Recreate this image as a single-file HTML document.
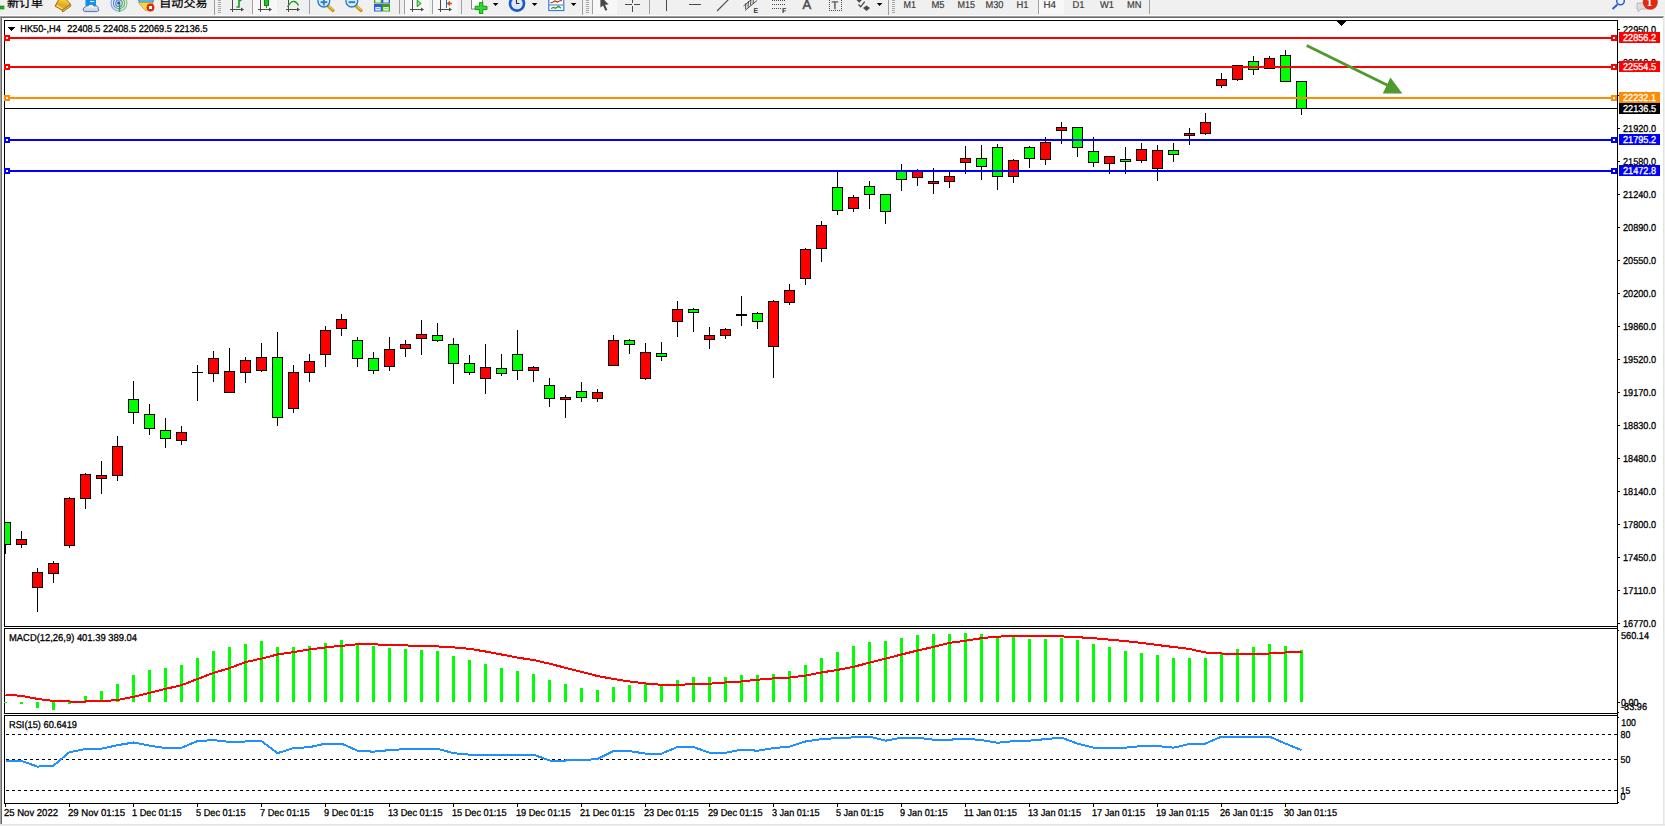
<!DOCTYPE html>
<html lang="zh"><head><meta charset="utf-8"><title>HK50-,H4</title>
<style>
html,body{margin:0;padding:0;background:#f0f0f0;overflow:hidden}
svg{display:block;font-family:"Liberation Sans","Noto Sans CJK SC",sans-serif}
</style></head><body>
<svg width="1665" height="826" viewBox="0 0 1665 826" shape-rendering="crispEdges" text-rendering="geometricPrecision">
<defs>
<clipPath id="cm"><rect x="5" y="21" width="1612" height="605"/></clipPath>
<clipPath id="cm2"><rect x="5" y="629" width="1612" height="84"/></clipPath>
<clipPath id="cm3"><rect x="5" y="716" width="1612" height="87"/></clipPath>
<clipPath id="tb"><rect x="0" y="0" width="1665" height="15"/></clipPath>
</defs>
<rect x="0" y="0" width="1665" height="826" fill="#f0f0f0"/>
<rect x="0" y="15" width="1665" height="1" fill="#fafafa"/>
<rect x="0" y="16" width="1664" height="1" fill="#a0a0a0"/>
<rect x="1" y="17" width="1662" height="1" fill="#696969"/>
<rect x="2" y="18" width="1661" height="806" fill="#ffffff"/>
<rect x="1663" y="18" width="1" height="807" fill="#e3e3e3"/>
<rect x="0" y="16" width="1" height="808" fill="#a0a0a0"/>
<rect x="1" y="17" width="1" height="807" fill="#696969"/>
<rect x="0" y="824" width="1665" height="1" fill="#e3e3e3"/>
<rect x="4" y="20" width="1614" height="1" fill="#000"/>
<rect x="4" y="20" width="1" height="607" fill="#000"/>
<rect x="4" y="626" width="1614" height="1" fill="#000"/>
<rect x="4" y="628" width="1614" height="1" fill="#000"/>
<rect x="4" y="628" width="1" height="86" fill="#000"/>
<rect x="4" y="713" width="1614" height="1" fill="#000"/>
<rect x="4" y="715" width="1614" height="1" fill="#000"/>
<rect x="4" y="715" width="1" height="89" fill="#000"/>
<rect x="4" y="803" width="1614" height="1" fill="#000"/>
<rect x="1617" y="20" width="1" height="784" fill="#000"/>
<g clip-path="url(#cm)">
<rect x="5" y="522" width="1" height="32" fill="#000"/>
<rect x="0" y="522" width="11" height="23" fill="#000"/>
<rect x="1" y="523" width="9" height="21" fill="#00ff00"/>
<rect x="21" y="531" width="1" height="17" fill="#000"/>
<rect x="16" y="539" width="11" height="6" fill="#000"/>
<rect x="17" y="540" width="9" height="4" fill="#ff0000"/>
<rect x="37" y="568" width="1" height="44" fill="#000"/>
<rect x="32" y="572" width="11" height="16" fill="#000"/>
<rect x="33" y="573" width="9" height="14" fill="#ff0000"/>
<rect x="53" y="561" width="1" height="22" fill="#000"/>
<rect x="48" y="563" width="11" height="11" fill="#000"/>
<rect x="49" y="564" width="9" height="9" fill="#ff0000"/>
<rect x="69" y="497" width="1" height="51" fill="#000"/>
<rect x="64" y="498" width="11" height="48" fill="#000"/>
<rect x="65" y="499" width="9" height="46" fill="#ff0000"/>
<rect x="85" y="473" width="1" height="36" fill="#000"/>
<rect x="80" y="474" width="11" height="25" fill="#000"/>
<rect x="81" y="475" width="9" height="23" fill="#ff0000"/>
<rect x="101" y="461" width="1" height="33" fill="#000"/>
<rect x="96" y="475" width="11" height="4" fill="#000"/>
<rect x="97" y="476" width="9" height="2" fill="#ff0000"/>
<rect x="117" y="436" width="1" height="45" fill="#000"/>
<rect x="112" y="446" width="11" height="30" fill="#000"/>
<rect x="113" y="447" width="9" height="28" fill="#ff0000"/>
<rect x="133" y="381" width="1" height="43" fill="#000"/>
<rect x="128" y="399" width="11" height="14" fill="#000"/>
<rect x="129" y="400" width="9" height="12" fill="#00ff00"/>
<rect x="149" y="404" width="1" height="31" fill="#000"/>
<rect x="144" y="414" width="11" height="15" fill="#000"/>
<rect x="145" y="415" width="9" height="13" fill="#00ff00"/>
<rect x="165" y="418" width="1" height="30" fill="#000"/>
<rect x="160" y="430" width="11" height="9" fill="#000"/>
<rect x="161" y="431" width="9" height="7" fill="#00ff00"/>
<rect x="181" y="426" width="1" height="19" fill="#000"/>
<rect x="176" y="432" width="11" height="9" fill="#000"/>
<rect x="177" y="433" width="9" height="7" fill="#ff0000"/>
<rect x="197" y="365" width="1" height="36" fill="#000"/>
<rect x="192" y="372" width="11" height="1" fill="#000"/>
<rect x="213" y="351" width="1" height="31" fill="#000"/>
<rect x="208" y="358" width="11" height="16" fill="#000"/>
<rect x="209" y="359" width="9" height="14" fill="#ff0000"/>
<rect x="229" y="348" width="1" height="45" fill="#000"/>
<rect x="224" y="371" width="11" height="22" fill="#000"/>
<rect x="225" y="372" width="9" height="20" fill="#ff0000"/>
<rect x="245" y="357" width="1" height="26" fill="#000"/>
<rect x="240" y="360" width="11" height="13" fill="#000"/>
<rect x="241" y="361" width="9" height="11" fill="#ff0000"/>
<rect x="261" y="343" width="1" height="29" fill="#000"/>
<rect x="256" y="357" width="11" height="14" fill="#000"/>
<rect x="257" y="358" width="9" height="12" fill="#ff0000"/>
<rect x="277" y="332" width="1" height="94" fill="#000"/>
<rect x="272" y="357" width="11" height="61" fill="#000"/>
<rect x="273" y="358" width="9" height="59" fill="#00ff00"/>
<rect x="293" y="365" width="1" height="48" fill="#000"/>
<rect x="288" y="372" width="11" height="37" fill="#000"/>
<rect x="289" y="373" width="9" height="35" fill="#ff0000"/>
<rect x="309" y="354" width="1" height="28" fill="#000"/>
<rect x="304" y="361" width="11" height="12" fill="#000"/>
<rect x="305" y="362" width="9" height="10" fill="#ff0000"/>
<rect x="325" y="326" width="1" height="41" fill="#000"/>
<rect x="320" y="330" width="11" height="25" fill="#000"/>
<rect x="321" y="331" width="9" height="23" fill="#ff0000"/>
<rect x="341" y="314" width="1" height="22" fill="#000"/>
<rect x="336" y="319" width="11" height="10" fill="#000"/>
<rect x="337" y="320" width="9" height="8" fill="#ff0000"/>
<rect x="357" y="337" width="1" height="30" fill="#000"/>
<rect x="352" y="340" width="11" height="19" fill="#000"/>
<rect x="353" y="341" width="9" height="17" fill="#00ff00"/>
<rect x="373" y="352" width="1" height="22" fill="#000"/>
<rect x="368" y="358" width="11" height="13" fill="#000"/>
<rect x="369" y="359" width="9" height="11" fill="#00ff00"/>
<rect x="389" y="337" width="1" height="34" fill="#000"/>
<rect x="384" y="349" width="11" height="18" fill="#000"/>
<rect x="385" y="350" width="9" height="16" fill="#ff0000"/>
<rect x="405" y="340" width="1" height="17" fill="#000"/>
<rect x="400" y="344" width="11" height="5" fill="#000"/>
<rect x="401" y="345" width="9" height="3" fill="#ff0000"/>
<rect x="421" y="320" width="1" height="35" fill="#000"/>
<rect x="416" y="334" width="11" height="5" fill="#000"/>
<rect x="417" y="335" width="9" height="3" fill="#ff0000"/>
<rect x="437" y="323" width="1" height="19" fill="#000"/>
<rect x="432" y="335" width="11" height="6" fill="#000"/>
<rect x="433" y="336" width="9" height="4" fill="#00ff00"/>
<rect x="453" y="338" width="1" height="46" fill="#000"/>
<rect x="448" y="344" width="11" height="20" fill="#000"/>
<rect x="449" y="345" width="9" height="18" fill="#00ff00"/>
<rect x="469" y="355" width="1" height="20" fill="#000"/>
<rect x="464" y="363" width="11" height="10" fill="#000"/>
<rect x="465" y="364" width="9" height="8" fill="#00ff00"/>
<rect x="485" y="344" width="1" height="50" fill="#000"/>
<rect x="480" y="367" width="11" height="12" fill="#000"/>
<rect x="481" y="368" width="9" height="10" fill="#ff0000"/>
<rect x="501" y="354" width="1" height="22" fill="#000"/>
<rect x="496" y="368" width="11" height="6" fill="#000"/>
<rect x="497" y="369" width="9" height="4" fill="#00ff00"/>
<rect x="517" y="330" width="1" height="50" fill="#000"/>
<rect x="512" y="354" width="11" height="17" fill="#000"/>
<rect x="513" y="355" width="9" height="15" fill="#00ff00"/>
<rect x="533" y="366" width="1" height="16" fill="#000"/>
<rect x="528" y="367" width="11" height="4" fill="#000"/>
<rect x="529" y="368" width="9" height="2" fill="#ff0000"/>
<rect x="549" y="378" width="1" height="29" fill="#000"/>
<rect x="544" y="385" width="11" height="14" fill="#000"/>
<rect x="545" y="386" width="9" height="12" fill="#00ff00"/>
<rect x="565" y="395" width="1" height="23" fill="#000"/>
<rect x="560" y="397" width="11" height="3" fill="#000"/>
<rect x="561" y="398" width="9" height="1" fill="#ff0000"/>
<rect x="581" y="382" width="1" height="20" fill="#000"/>
<rect x="576" y="391" width="11" height="7" fill="#000"/>
<rect x="577" y="392" width="9" height="5" fill="#00ff00"/>
<rect x="597" y="389" width="1" height="13" fill="#000"/>
<rect x="592" y="392" width="11" height="7" fill="#000"/>
<rect x="593" y="393" width="9" height="5" fill="#ff0000"/>
<rect x="613" y="335" width="1" height="31" fill="#000"/>
<rect x="608" y="340" width="11" height="26" fill="#000"/>
<rect x="609" y="341" width="9" height="24" fill="#ff0000"/>
<rect x="629" y="339" width="1" height="15" fill="#000"/>
<rect x="624" y="340" width="11" height="5" fill="#000"/>
<rect x="625" y="341" width="9" height="3" fill="#00ff00"/>
<rect x="645" y="343" width="1" height="37" fill="#000"/>
<rect x="640" y="352" width="11" height="27" fill="#000"/>
<rect x="641" y="353" width="9" height="25" fill="#ff0000"/>
<rect x="661" y="342" width="1" height="19" fill="#000"/>
<rect x="656" y="353" width="11" height="4" fill="#000"/>
<rect x="657" y="354" width="9" height="2" fill="#00ff00"/>
<rect x="677" y="301" width="1" height="36" fill="#000"/>
<rect x="672" y="309" width="11" height="13" fill="#000"/>
<rect x="673" y="310" width="9" height="11" fill="#ff0000"/>
<rect x="693" y="308" width="1" height="24" fill="#000"/>
<rect x="688" y="309" width="11" height="4" fill="#000"/>
<rect x="689" y="310" width="9" height="2" fill="#00ff00"/>
<rect x="709" y="327" width="1" height="22" fill="#000"/>
<rect x="704" y="335" width="11" height="5" fill="#000"/>
<rect x="705" y="336" width="9" height="3" fill="#ff0000"/>
<rect x="725" y="328" width="1" height="11" fill="#000"/>
<rect x="720" y="329" width="11" height="7" fill="#000"/>
<rect x="721" y="330" width="9" height="5" fill="#ff0000"/>
<rect x="741" y="296" width="1" height="30" fill="#000"/>
<rect x="736" y="314" width="11" height="2" fill="#000"/>
<rect x="757" y="312" width="1" height="17" fill="#000"/>
<rect x="752" y="313" width="11" height="9" fill="#000"/>
<rect x="753" y="314" width="9" height="7" fill="#00ff00"/>
<rect x="773" y="300" width="1" height="78" fill="#000"/>
<rect x="768" y="301" width="11" height="46" fill="#000"/>
<rect x="769" y="302" width="9" height="44" fill="#ff0000"/>
<rect x="789" y="284" width="1" height="21" fill="#000"/>
<rect x="784" y="290" width="11" height="13" fill="#000"/>
<rect x="785" y="291" width="9" height="11" fill="#ff0000"/>
<rect x="805" y="248" width="1" height="37" fill="#000"/>
<rect x="800" y="249" width="11" height="30" fill="#000"/>
<rect x="801" y="250" width="9" height="28" fill="#ff0000"/>
<rect x="821" y="221" width="1" height="41" fill="#000"/>
<rect x="816" y="225" width="11" height="24" fill="#000"/>
<rect x="817" y="226" width="9" height="22" fill="#ff0000"/>
<rect x="837" y="171" width="1" height="44" fill="#000"/>
<rect x="832" y="187" width="11" height="24" fill="#000"/>
<rect x="833" y="188" width="9" height="22" fill="#00ff00"/>
<rect x="853" y="195" width="1" height="17" fill="#000"/>
<rect x="848" y="197" width="11" height="12" fill="#000"/>
<rect x="849" y="198" width="9" height="10" fill="#ff0000"/>
<rect x="869" y="181" width="1" height="28" fill="#000"/>
<rect x="864" y="186" width="11" height="9" fill="#000"/>
<rect x="865" y="187" width="9" height="7" fill="#00ff00"/>
<rect x="885" y="194" width="1" height="30" fill="#000"/>
<rect x="880" y="194" width="11" height="18" fill="#000"/>
<rect x="881" y="195" width="9" height="16" fill="#00ff00"/>
<rect x="901" y="164" width="1" height="27" fill="#000"/>
<rect x="896" y="171" width="11" height="9" fill="#000"/>
<rect x="897" y="172" width="9" height="7" fill="#00ff00"/>
<rect x="917" y="169" width="1" height="17" fill="#000"/>
<rect x="912" y="171" width="11" height="7" fill="#000"/>
<rect x="913" y="172" width="9" height="5" fill="#ff0000"/>
<rect x="933" y="168" width="1" height="26" fill="#000"/>
<rect x="928" y="181" width="11" height="3" fill="#000"/>
<rect x="929" y="182" width="9" height="1" fill="#ff0000"/>
<rect x="949" y="172" width="1" height="16" fill="#000"/>
<rect x="944" y="176" width="11" height="6" fill="#000"/>
<rect x="945" y="177" width="9" height="4" fill="#ff0000"/>
<rect x="965" y="146" width="1" height="28" fill="#000"/>
<rect x="960" y="158" width="11" height="5" fill="#000"/>
<rect x="961" y="159" width="9" height="3" fill="#ff0000"/>
<rect x="981" y="145" width="1" height="35" fill="#000"/>
<rect x="976" y="158" width="11" height="9" fill="#000"/>
<rect x="977" y="159" width="9" height="7" fill="#00ff00"/>
<rect x="997" y="144" width="1" height="46" fill="#000"/>
<rect x="992" y="147" width="11" height="30" fill="#000"/>
<rect x="993" y="148" width="9" height="28" fill="#00ff00"/>
<rect x="1013" y="159" width="1" height="24" fill="#000"/>
<rect x="1008" y="160" width="11" height="17" fill="#000"/>
<rect x="1009" y="161" width="9" height="15" fill="#ff0000"/>
<rect x="1029" y="146" width="1" height="22" fill="#000"/>
<rect x="1024" y="147" width="11" height="12" fill="#000"/>
<rect x="1025" y="148" width="9" height="10" fill="#00ff00"/>
<rect x="1045" y="137" width="1" height="28" fill="#000"/>
<rect x="1040" y="142" width="11" height="18" fill="#000"/>
<rect x="1041" y="143" width="9" height="16" fill="#ff0000"/>
<rect x="1061" y="122" width="1" height="22" fill="#000"/>
<rect x="1056" y="127" width="11" height="4" fill="#000"/>
<rect x="1057" y="128" width="9" height="2" fill="#ff0000"/>
<rect x="1077" y="127" width="1" height="30" fill="#000"/>
<rect x="1072" y="127" width="11" height="21" fill="#000"/>
<rect x="1073" y="128" width="9" height="19" fill="#00ff00"/>
<rect x="1093" y="137" width="1" height="30" fill="#000"/>
<rect x="1088" y="151" width="11" height="12" fill="#000"/>
<rect x="1089" y="152" width="9" height="10" fill="#00ff00"/>
<rect x="1109" y="156" width="1" height="18" fill="#000"/>
<rect x="1104" y="156" width="11" height="8" fill="#000"/>
<rect x="1105" y="157" width="9" height="6" fill="#ff0000"/>
<rect x="1125" y="147" width="1" height="27" fill="#000"/>
<rect x="1120" y="159" width="11" height="3" fill="#000"/>
<rect x="1121" y="160" width="9" height="1" fill="#00ff00"/>
<rect x="1141" y="143" width="1" height="20" fill="#000"/>
<rect x="1136" y="149" width="11" height="12" fill="#000"/>
<rect x="1137" y="150" width="9" height="10" fill="#ff0000"/>
<rect x="1157" y="145" width="1" height="36" fill="#000"/>
<rect x="1152" y="150" width="11" height="19" fill="#000"/>
<rect x="1153" y="151" width="9" height="17" fill="#ff0000"/>
<rect x="1173" y="143" width="1" height="19" fill="#000"/>
<rect x="1168" y="150" width="11" height="5" fill="#000"/>
<rect x="1169" y="151" width="9" height="3" fill="#00ff00"/>
<rect x="1189" y="128" width="1" height="17" fill="#000"/>
<rect x="1184" y="133" width="11" height="3" fill="#000"/>
<rect x="1185" y="134" width="9" height="1" fill="#ff0000"/>
<rect x="1205" y="113" width="1" height="22" fill="#000"/>
<rect x="1200" y="122" width="11" height="12" fill="#000"/>
<rect x="1201" y="123" width="9" height="10" fill="#ff0000"/>
<rect x="1221" y="73" width="1" height="15" fill="#000"/>
<rect x="1216" y="79" width="11" height="7" fill="#000"/>
<rect x="1217" y="80" width="9" height="5" fill="#ff0000"/>
<rect x="1237" y="65" width="1" height="16" fill="#000"/>
<rect x="1232" y="65" width="11" height="15" fill="#000"/>
<rect x="1233" y="66" width="9" height="13" fill="#ff0000"/>
<rect x="1253" y="56" width="1" height="19" fill="#000"/>
<rect x="1248" y="61" width="11" height="9" fill="#000"/>
<rect x="1249" y="62" width="9" height="7" fill="#00ff00"/>
<rect x="1269" y="56" width="1" height="13" fill="#000"/>
<rect x="1264" y="58" width="11" height="11" fill="#000"/>
<rect x="1265" y="59" width="9" height="9" fill="#ff0000"/>
<rect x="1285" y="50" width="1" height="32" fill="#000"/>
<rect x="1280" y="55" width="11" height="27" fill="#000"/>
<rect x="1281" y="56" width="9" height="25" fill="#00ff00"/>
<rect x="1301" y="81" width="1" height="34" fill="#000"/>
<rect x="1296" y="81" width="11" height="28" fill="#000"/>
<rect x="1297" y="82" width="9" height="26" fill="#00ff00"/>
</g>
<rect x="5" y="108" width="1612" height="1" fill="#000"/>
<rect x="5" y="37" width="1612" height="2" fill="#ff0000"/>
<rect x="4" y="35" width="6" height="6" fill="#ff0000"/>
<rect x="6" y="37" width="2" height="2" fill="#fff"/>
<rect x="1611" y="35" width="6" height="6" fill="#ff0000"/>
<rect x="1613" y="37" width="2" height="2" fill="#fff"/>
<rect x="5" y="66" width="1612" height="2" fill="#ff0000"/>
<rect x="4" y="64" width="6" height="6" fill="#ff0000"/>
<rect x="6" y="66" width="2" height="2" fill="#fff"/>
<rect x="1611" y="64" width="6" height="6" fill="#ff0000"/>
<rect x="1613" y="66" width="2" height="2" fill="#fff"/>
<rect x="5" y="97" width="1612" height="2" fill="#ff8c00"/>
<rect x="4" y="95" width="6" height="6" fill="#ff8c00"/>
<rect x="6" y="97" width="2" height="2" fill="#fff"/>
<rect x="1611" y="95" width="6" height="6" fill="#ff8c00"/>
<rect x="1613" y="97" width="2" height="2" fill="#fff"/>
<rect x="5" y="139" width="1612" height="2" fill="#0000ff"/>
<rect x="4" y="137" width="6" height="6" fill="#0000ff"/>
<rect x="6" y="139" width="2" height="2" fill="#fff"/>
<rect x="1611" y="137" width="6" height="6" fill="#0000ff"/>
<rect x="1613" y="139" width="2" height="2" fill="#fff"/>
<rect x="5" y="170" width="1612" height="2" fill="#0000ff"/>
<rect x="4" y="168" width="6" height="6" fill="#0000ff"/>
<rect x="6" y="170" width="2" height="2" fill="#fff"/>
<rect x="1611" y="168" width="6" height="6" fill="#0000ff"/>
<rect x="1613" y="170" width="2" height="2" fill="#fff"/>
<polygon points="1336.5,21 1346.5,21 1341.5,26.5" fill="#000"/>
<g shape-rendering="geometricPrecision"><line x1="1306.7" y1="45.5" x2="1388" y2="85.6" stroke="#4f9a2d" stroke-width="2.8"/><polygon points="1390.4,77.5 1382.8,93.6 1402.4,93.6" fill="#4f9a2d"/></g>
<rect x="4" y="702" width="3" height="1" fill="#00ff00"/>
<rect x="20" y="702" width="3" height="2" fill="#00ff00"/>
<rect x="36" y="702" width="3" height="6" fill="#00ff00"/>
<rect x="52" y="702" width="3" height="8" fill="#00ff00"/>
<rect x="68" y="702" width="3" height="2" fill="#00ff00"/>
<rect x="84" y="696" width="3" height="6" fill="#00ff00"/>
<rect x="100" y="691" width="3" height="11" fill="#00ff00"/>
<rect x="116" y="684" width="3" height="18" fill="#00ff00"/>
<rect x="132" y="675" width="3" height="27" fill="#00ff00"/>
<rect x="148" y="670" width="3" height="32" fill="#00ff00"/>
<rect x="164" y="668" width="3" height="34" fill="#00ff00"/>
<rect x="180" y="665" width="3" height="37" fill="#00ff00"/>
<rect x="196" y="658" width="3" height="44" fill="#00ff00"/>
<rect x="212" y="651" width="3" height="51" fill="#00ff00"/>
<rect x="228" y="647" width="3" height="55" fill="#00ff00"/>
<rect x="244" y="644" width="3" height="58" fill="#00ff00"/>
<rect x="260" y="641" width="3" height="61" fill="#00ff00"/>
<rect x="276" y="647" width="3" height="55" fill="#00ff00"/>
<rect x="292" y="647" width="3" height="55" fill="#00ff00"/>
<rect x="308" y="646" width="3" height="56" fill="#00ff00"/>
<rect x="324" y="643" width="3" height="59" fill="#00ff00"/>
<rect x="340" y="640" width="3" height="62" fill="#00ff00"/>
<rect x="356" y="643" width="3" height="59" fill="#00ff00"/>
<rect x="372" y="646" width="3" height="56" fill="#00ff00"/>
<rect x="388" y="648" width="3" height="54" fill="#00ff00"/>
<rect x="404" y="649" width="3" height="53" fill="#00ff00"/>
<rect x="420" y="650" width="3" height="52" fill="#00ff00"/>
<rect x="436" y="651" width="3" height="51" fill="#00ff00"/>
<rect x="452" y="656" width="3" height="46" fill="#00ff00"/>
<rect x="468" y="660" width="3" height="42" fill="#00ff00"/>
<rect x="484" y="664" width="3" height="38" fill="#00ff00"/>
<rect x="500" y="668" width="3" height="34" fill="#00ff00"/>
<rect x="516" y="671" width="3" height="31" fill="#00ff00"/>
<rect x="532" y="674" width="3" height="28" fill="#00ff00"/>
<rect x="548" y="680" width="3" height="22" fill="#00ff00"/>
<rect x="564" y="684" width="3" height="18" fill="#00ff00"/>
<rect x="580" y="688" width="3" height="14" fill="#00ff00"/>
<rect x="596" y="690" width="3" height="12" fill="#00ff00"/>
<rect x="612" y="687" width="3" height="15" fill="#00ff00"/>
<rect x="628" y="685" width="3" height="17" fill="#00ff00"/>
<rect x="644" y="684" width="3" height="18" fill="#00ff00"/>
<rect x="660" y="685" width="3" height="17" fill="#00ff00"/>
<rect x="676" y="680" width="3" height="22" fill="#00ff00"/>
<rect x="692" y="677" width="3" height="25" fill="#00ff00"/>
<rect x="708" y="677" width="3" height="25" fill="#00ff00"/>
<rect x="724" y="677" width="3" height="25" fill="#00ff00"/>
<rect x="740" y="675" width="3" height="27" fill="#00ff00"/>
<rect x="756" y="675" width="3" height="27" fill="#00ff00"/>
<rect x="772" y="674" width="3" height="28" fill="#00ff00"/>
<rect x="788" y="671" width="3" height="31" fill="#00ff00"/>
<rect x="804" y="665" width="3" height="37" fill="#00ff00"/>
<rect x="820" y="658" width="3" height="44" fill="#00ff00"/>
<rect x="836" y="652" width="3" height="50" fill="#00ff00"/>
<rect x="852" y="646" width="3" height="56" fill="#00ff00"/>
<rect x="868" y="642" width="3" height="60" fill="#00ff00"/>
<rect x="884" y="641" width="3" height="61" fill="#00ff00"/>
<rect x="900" y="638" width="3" height="64" fill="#00ff00"/>
<rect x="916" y="635" width="3" height="67" fill="#00ff00"/>
<rect x="932" y="634" width="3" height="68" fill="#00ff00"/>
<rect x="948" y="634" width="3" height="68" fill="#00ff00"/>
<rect x="964" y="633" width="3" height="69" fill="#00ff00"/>
<rect x="980" y="634" width="3" height="68" fill="#00ff00"/>
<rect x="996" y="636" width="3" height="66" fill="#00ff00"/>
<rect x="1012" y="637" width="3" height="65" fill="#00ff00"/>
<rect x="1028" y="639" width="3" height="63" fill="#00ff00"/>
<rect x="1044" y="639" width="3" height="63" fill="#00ff00"/>
<rect x="1060" y="638" width="3" height="64" fill="#00ff00"/>
<rect x="1076" y="640" width="3" height="62" fill="#00ff00"/>
<rect x="1092" y="644" width="3" height="58" fill="#00ff00"/>
<rect x="1108" y="647" width="3" height="55" fill="#00ff00"/>
<rect x="1124" y="651" width="3" height="51" fill="#00ff00"/>
<rect x="1140" y="653" width="3" height="49" fill="#00ff00"/>
<rect x="1156" y="655" width="3" height="47" fill="#00ff00"/>
<rect x="1172" y="658" width="3" height="44" fill="#00ff00"/>
<rect x="1188" y="658" width="3" height="44" fill="#00ff00"/>
<rect x="1204" y="658" width="3" height="44" fill="#00ff00"/>
<rect x="1220" y="654" width="3" height="48" fill="#00ff00"/>
<rect x="1236" y="649" width="3" height="53" fill="#00ff00"/>
<rect x="1252" y="647" width="3" height="55" fill="#00ff00"/>
<rect x="1268" y="644" width="3" height="58" fill="#00ff00"/>
<rect x="1284" y="646" width="3" height="56" fill="#00ff00"/>
<rect x="1300" y="650" width="3" height="52" fill="#00ff00"/>
<g clip-path="url(#cm2)">
<polyline points="5.5,694.8 21.5,695.8 37.5,698.9 53.5,700.9 69.5,701.5 85.5,701.5 101.5,701.1 117.5,700.1 133.5,696.8 149.5,692.9 165.5,688.9 181.5,685.2 197.5,679.0 213.5,672.9 229.5,668.2 245.5,662.1 261.5,658.6 277.5,654.5 293.5,652.1 309.5,649.4 325.5,647.4 341.5,645.8 357.5,644.3 373.5,644.3 389.5,645.0 405.5,645.4 421.5,646.0 437.5,646.4 453.5,647.4 469.5,648.8 485.5,651.5 501.5,654.5 517.5,657.6 533.5,660.0 549.5,663.7 565.5,667.8 581.5,671.9 597.5,676.0 613.5,679.0 629.5,681.5 645.5,683.5 661.5,684.8 677.5,684.8 693.5,684.2 709.5,683.7 725.5,682.5 741.5,681.5 757.5,679.7 773.5,678.4 789.5,677.6 805.5,675.6 821.5,672.5 837.5,669.9 853.5,666.8 869.5,662.7 885.5,658.6 901.5,654.5 917.5,650.5 933.5,647.0 949.5,642.9 965.5,640.7 981.5,638.2 997.5,636.6 1013.5,636.2 1029.5,636.2 1045.5,636.2 1061.5,636.4 1077.5,637.2 1093.5,638.2 1109.5,639.6 1125.5,641.1 1141.5,642.9 1157.5,645.0 1173.5,647.0 1189.5,649.0 1205.5,652.5 1221.5,653.5 1237.5,653.9 1253.5,653.9 1269.5,653.5 1285.5,652.5 1301.5,651.9" fill="none" stroke="#ff0000" stroke-width="2" stroke-linejoin="round" shape-rendering="crispEdges"/>
</g>
<line x1="6" y1="734.5" x2="1617" y2="734.5" stroke="#000" stroke-width="1" stroke-dasharray="3 3"/>
<line x1="6" y1="759.5" x2="1617" y2="759.5" stroke="#000" stroke-width="1" stroke-dasharray="3 3"/>
<line x1="6" y1="790.5" x2="1617" y2="790.5" stroke="#000" stroke-width="1" stroke-dasharray="3 3"/>
<g clip-path="url(#cm3)">
<polyline points="5.5,760.9 21.5,760.9 37.5,766.6 53.5,765.6 69.5,752.1 85.5,749.1 101.5,748.7 117.5,745.2 133.5,742.5 149.5,745.6 165.5,748.1 181.5,747.7 197.5,741.1 213.5,740.1 229.5,741.9 245.5,741.5 261.5,741.1 277.5,753.2 293.5,748.1 309.5,747.2 325.5,743.6 341.5,743.6 357.5,750.7 373.5,751.7 389.5,750.1 405.5,749.1 421.5,748.7 437.5,748.7 453.5,753.2 469.5,754.6 485.5,754.6 501.5,754.6 517.5,754.6 533.5,754.6 549.5,760.5 565.5,760.5 581.5,760.1 597.5,759.1 613.5,751.1 629.5,751.1 645.5,753.6 661.5,753.6 677.5,747.0 693.5,747.0 709.5,752.8 725.5,752.8 741.5,749.7 757.5,750.7 773.5,748.1 789.5,746.6 805.5,741.5 821.5,739.1 837.5,738.1 853.5,737.4 869.5,736.6 885.5,740.7 901.5,737.6 917.5,737.6 933.5,739.7 949.5,739.7 965.5,738.7 981.5,740.1 997.5,742.8 1013.5,741.1 1029.5,740.7 1045.5,739.1 1061.5,737.6 1077.5,743.6 1093.5,747.7 1109.5,747.7 1125.5,747.7 1141.5,746.0 1157.5,746.0 1173.5,747.7 1189.5,744.0 1205.5,743.6 1221.5,736.6 1237.5,736.6 1253.5,736.6 1269.5,736.6 1285.5,743.6 1301.5,750.1" fill="none" stroke="#1e90ff" stroke-width="2" stroke-linejoin="round" shape-rendering="crispEdges"/>
</g>
<rect x="1618" y="29" width="2" height="1" fill="#000"/>
<text x="1623" y="33" fill="#000" stroke="#000" stroke-width="0.3" font-size="10" textLength="33" lengthAdjust="spacingAndGlyphs">22950.0</text>
<rect x="1618" y="62" width="2" height="1" fill="#000"/>
<text x="1623" y="66" fill="#000" stroke="#000" stroke-width="0.3" font-size="10" textLength="33" lengthAdjust="spacingAndGlyphs">22610.0</text>
<rect x="1618" y="95" width="2" height="1" fill="#000"/>
<text x="1623" y="99" fill="#000" stroke="#000" stroke-width="0.3" font-size="10" textLength="33" lengthAdjust="spacingAndGlyphs">22270.0</text>
<rect x="1618" y="128" width="2" height="1" fill="#000"/>
<text x="1623" y="132" fill="#000" stroke="#000" stroke-width="0.3" font-size="10" textLength="33" lengthAdjust="spacingAndGlyphs">21920.0</text>
<rect x="1618" y="161" width="2" height="1" fill="#000"/>
<text x="1623" y="165" fill="#000" stroke="#000" stroke-width="0.3" font-size="10" textLength="33" lengthAdjust="spacingAndGlyphs">21580.0</text>
<rect x="1618" y="194" width="2" height="1" fill="#000"/>
<text x="1623" y="198" fill="#000" stroke="#000" stroke-width="0.3" font-size="10" textLength="33" lengthAdjust="spacingAndGlyphs">21240.0</text>
<rect x="1618" y="227" width="2" height="1" fill="#000"/>
<text x="1623" y="231" fill="#000" stroke="#000" stroke-width="0.3" font-size="10" textLength="33" lengthAdjust="spacingAndGlyphs">20890.0</text>
<rect x="1618" y="260" width="2" height="1" fill="#000"/>
<text x="1623" y="264" fill="#000" stroke="#000" stroke-width="0.3" font-size="10" textLength="33" lengthAdjust="spacingAndGlyphs">20550.0</text>
<rect x="1618" y="293" width="2" height="1" fill="#000"/>
<text x="1623" y="297" fill="#000" stroke="#000" stroke-width="0.3" font-size="10" textLength="33" lengthAdjust="spacingAndGlyphs">20200.0</text>
<rect x="1618" y="326" width="2" height="1" fill="#000"/>
<text x="1623" y="330" fill="#000" stroke="#000" stroke-width="0.3" font-size="10" textLength="33" lengthAdjust="spacingAndGlyphs">19860.0</text>
<rect x="1618" y="359" width="2" height="1" fill="#000"/>
<text x="1623" y="363" fill="#000" stroke="#000" stroke-width="0.3" font-size="10" textLength="33" lengthAdjust="spacingAndGlyphs">19520.0</text>
<rect x="1618" y="392" width="2" height="1" fill="#000"/>
<text x="1623" y="396" fill="#000" stroke="#000" stroke-width="0.3" font-size="10" textLength="33" lengthAdjust="spacingAndGlyphs">19170.0</text>
<rect x="1618" y="425" width="2" height="1" fill="#000"/>
<text x="1623" y="429" fill="#000" stroke="#000" stroke-width="0.3" font-size="10" textLength="33" lengthAdjust="spacingAndGlyphs">18830.0</text>
<rect x="1618" y="458" width="2" height="1" fill="#000"/>
<text x="1623" y="462" fill="#000" stroke="#000" stroke-width="0.3" font-size="10" textLength="33" lengthAdjust="spacingAndGlyphs">18480.0</text>
<rect x="1618" y="491" width="2" height="1" fill="#000"/>
<text x="1623" y="495" fill="#000" stroke="#000" stroke-width="0.3" font-size="10" textLength="33" lengthAdjust="spacingAndGlyphs">18140.0</text>
<rect x="1618" y="524" width="2" height="1" fill="#000"/>
<text x="1623" y="528" fill="#000" stroke="#000" stroke-width="0.3" font-size="10" textLength="33" lengthAdjust="spacingAndGlyphs">17800.0</text>
<rect x="1618" y="557" width="2" height="1" fill="#000"/>
<text x="1623" y="561" fill="#000" stroke="#000" stroke-width="0.3" font-size="10" textLength="33" lengthAdjust="spacingAndGlyphs">17450.0</text>
<rect x="1618" y="590" width="2" height="1" fill="#000"/>
<text x="1623" y="594" fill="#000" stroke="#000" stroke-width="0.3" font-size="10" textLength="33" lengthAdjust="spacingAndGlyphs">17110.0</text>
<rect x="1618" y="623" width="2" height="1" fill="#000"/>
<text x="1623" y="627" fill="#000" stroke="#000" stroke-width="0.3" font-size="10" textLength="33" lengthAdjust="spacingAndGlyphs">16770.0</text>
<rect x="1619" y="32" width="41" height="11" fill="#ff0000"/>
<text x="1623" y="41" fill="#fff" stroke="#fff" stroke-width="0.3" font-size="10" textLength="33" lengthAdjust="spacingAndGlyphs">22856.2</text>
<rect x="1619" y="61" width="41" height="11" fill="#ff0000"/>
<text x="1623" y="70" fill="#fff" stroke="#fff" stroke-width="0.3" font-size="10" textLength="33" lengthAdjust="spacingAndGlyphs">22554.5</text>
<rect x="1619" y="92" width="41" height="11" fill="#ff8c00"/>
<text x="1623" y="101" fill="#fff" stroke="#fff" stroke-width="0.3" font-size="10" textLength="33" lengthAdjust="spacingAndGlyphs">22232.1</text>
<rect x="1619" y="103" width="41" height="11" fill="#000000"/>
<text x="1623" y="112" fill="#fff" stroke="#fff" stroke-width="0.3" font-size="10" textLength="33" lengthAdjust="spacingAndGlyphs">22136.5</text>
<rect x="1619" y="134" width="41" height="11" fill="#0000ff"/>
<text x="1623" y="143" fill="#fff" stroke="#fff" stroke-width="0.3" font-size="10" textLength="33" lengthAdjust="spacingAndGlyphs">21795.2</text>
<rect x="1619" y="165" width="41" height="11" fill="#0000ff"/>
<text x="1623" y="174" fill="#fff" stroke="#fff" stroke-width="0.3" font-size="10" textLength="33" lengthAdjust="spacingAndGlyphs">21472.8</text>
<rect x="1618" y="630" width="1" height="1" fill="#000"/>
<text x="1621" y="639" fill="#000" stroke="#000" stroke-width="0.3" font-size="10" textLength="28" lengthAdjust="spacingAndGlyphs">560.14</text>
<rect x="1618" y="702" width="2" height="1" fill="#000"/>
<text x="1621" y="706" fill="#000" stroke="#000" stroke-width="0.3" font-size="10" textLength="17.5" lengthAdjust="spacingAndGlyphs">0.00</text>
<text x="1621" y="710" fill="#000" stroke="#000" stroke-width="0.3" font-size="10" textLength="26" lengthAdjust="spacingAndGlyphs">-83.96</text>
<rect x="1618" y="712" width="1" height="1" fill="#000"/>
<rect x="1618" y="717" width="1" height="1" fill="#000"/>
<rect x="1618" y="802" width="1" height="1" fill="#000"/>
<text x="1621.3" y="726" fill="#000" stroke="#000" stroke-width="0.3" font-size="10" textLength="14.6" lengthAdjust="spacingAndGlyphs">100</text>
<text x="1620.6" y="738" fill="#000" stroke="#000" stroke-width="0.3" font-size="10" textLength="9.8" lengthAdjust="spacingAndGlyphs">80</text>
<text x="1620.6" y="763" fill="#000" stroke="#000" stroke-width="0.3" font-size="10" textLength="9.8" lengthAdjust="spacingAndGlyphs">50</text>
<text x="1620.6" y="794" fill="#000" stroke="#000" stroke-width="0.3" font-size="10" textLength="9.6" lengthAdjust="spacingAndGlyphs">15</text>
<text x="1620.6" y="800" fill="#000" stroke="#000" stroke-width="0.3" font-size="10" textLength="5" lengthAdjust="spacingAndGlyphs">0</text>
<polygon points="8,27 15.4,27 11.7,31.2" fill="#000"/>
<text x="20.3" y="32" fill="#000" stroke="#000" stroke-width="0.3" font-size="10" textLength="40.5" lengthAdjust="spacingAndGlyphs">HK50-,H4</text>
<text x="67.2" y="32" fill="#000" stroke="#000" stroke-width="0.3" font-size="10" textLength="140.4" lengthAdjust="spacingAndGlyphs">22408.5 22408.5 22069.5 22136.5</text>
<text x="9" y="641" fill="#000" stroke="#000" stroke-width="0.3" font-size="10" textLength="128" lengthAdjust="spacingAndGlyphs">MACD(12,26,9) 401.39 389.04</text>
<text x="9" y="728" fill="#000" stroke="#000" stroke-width="0.3" font-size="10" textLength="68" lengthAdjust="spacingAndGlyphs">RSI(15) 60.6419</text>
<rect x="5" y="804" width="1" height="3" fill="#000"/>
<text x="4" y="816" fill="#000" stroke="#000" stroke-width="0.3" font-size="10" textLength="54" lengthAdjust="spacingAndGlyphs">25 Nov 2022</text>
<rect x="69" y="804" width="1" height="3" fill="#000"/>
<text x="68" y="816" fill="#000" stroke="#000" stroke-width="0.3" font-size="10" textLength="57" lengthAdjust="spacingAndGlyphs">29 Nov 01:15</text>
<rect x="133" y="804" width="1" height="3" fill="#000"/>
<text x="132" y="816" fill="#000" stroke="#000" stroke-width="0.3" font-size="10" textLength="49.5" lengthAdjust="spacingAndGlyphs">1 Dec 01:15</text>
<rect x="197" y="804" width="1" height="3" fill="#000"/>
<text x="196" y="816" fill="#000" stroke="#000" stroke-width="0.3" font-size="10" textLength="49.5" lengthAdjust="spacingAndGlyphs">5 Dec 01:15</text>
<rect x="261" y="804" width="1" height="3" fill="#000"/>
<text x="260" y="816" fill="#000" stroke="#000" stroke-width="0.3" font-size="10" textLength="49.5" lengthAdjust="spacingAndGlyphs">7 Dec 01:15</text>
<rect x="325" y="804" width="1" height="3" fill="#000"/>
<text x="324" y="816" fill="#000" stroke="#000" stroke-width="0.3" font-size="10" textLength="49.5" lengthAdjust="spacingAndGlyphs">9 Dec 01:15</text>
<rect x="389" y="804" width="1" height="3" fill="#000"/>
<text x="388" y="816" fill="#000" stroke="#000" stroke-width="0.3" font-size="10" textLength="54.5" lengthAdjust="spacingAndGlyphs">13 Dec 01:15</text>
<rect x="453" y="804" width="1" height="3" fill="#000"/>
<text x="452" y="816" fill="#000" stroke="#000" stroke-width="0.3" font-size="10" textLength="54.5" lengthAdjust="spacingAndGlyphs">15 Dec 01:15</text>
<rect x="517" y="804" width="1" height="3" fill="#000"/>
<text x="516" y="816" fill="#000" stroke="#000" stroke-width="0.3" font-size="10" textLength="54.5" lengthAdjust="spacingAndGlyphs">19 Dec 01:15</text>
<rect x="581" y="804" width="1" height="3" fill="#000"/>
<text x="580" y="816" fill="#000" stroke="#000" stroke-width="0.3" font-size="10" textLength="54.5" lengthAdjust="spacingAndGlyphs">21 Dec 01:15</text>
<rect x="645" y="804" width="1" height="3" fill="#000"/>
<text x="644" y="816" fill="#000" stroke="#000" stroke-width="0.3" font-size="10" textLength="54.5" lengthAdjust="spacingAndGlyphs">23 Dec 01:15</text>
<rect x="709" y="804" width="1" height="3" fill="#000"/>
<text x="708" y="816" fill="#000" stroke="#000" stroke-width="0.3" font-size="10" textLength="54.5" lengthAdjust="spacingAndGlyphs">29 Dec 01:15</text>
<rect x="773" y="804" width="1" height="3" fill="#000"/>
<text x="772" y="816" fill="#000" stroke="#000" stroke-width="0.3" font-size="10" textLength="47.5" lengthAdjust="spacingAndGlyphs">3 Jan 01:15</text>
<rect x="837" y="804" width="1" height="3" fill="#000"/>
<text x="836" y="816" fill="#000" stroke="#000" stroke-width="0.3" font-size="10" textLength="47.5" lengthAdjust="spacingAndGlyphs">5 Jan 01:15</text>
<rect x="901" y="804" width="1" height="3" fill="#000"/>
<text x="900" y="816" fill="#000" stroke="#000" stroke-width="0.3" font-size="10" textLength="47.5" lengthAdjust="spacingAndGlyphs">9 Jan 01:15</text>
<rect x="965" y="804" width="1" height="3" fill="#000"/>
<text x="964" y="816" fill="#000" stroke="#000" stroke-width="0.3" font-size="10" textLength="53" lengthAdjust="spacingAndGlyphs">11 Jan 01:15</text>
<rect x="1029" y="804" width="1" height="3" fill="#000"/>
<text x="1028" y="816" fill="#000" stroke="#000" stroke-width="0.3" font-size="10" textLength="53" lengthAdjust="spacingAndGlyphs">13 Jan 01:15</text>
<rect x="1093" y="804" width="1" height="3" fill="#000"/>
<text x="1092" y="816" fill="#000" stroke="#000" stroke-width="0.3" font-size="10" textLength="53" lengthAdjust="spacingAndGlyphs">17 Jan 01:15</text>
<rect x="1157" y="804" width="1" height="3" fill="#000"/>
<text x="1156" y="816" fill="#000" stroke="#000" stroke-width="0.3" font-size="10" textLength="53" lengthAdjust="spacingAndGlyphs">19 Jan 01:15</text>
<rect x="1221" y="804" width="1" height="3" fill="#000"/>
<text x="1220" y="816" fill="#000" stroke="#000" stroke-width="0.3" font-size="10" textLength="53" lengthAdjust="spacingAndGlyphs">26 Jan 01:15</text>
<rect x="1285" y="804" width="1" height="3" fill="#000"/>
<text x="1284" y="816" fill="#000" stroke="#000" stroke-width="0.3" font-size="10" textLength="53" lengthAdjust="spacingAndGlyphs">30 Jan 01:15</text>
<g clip-path="url(#tb)">
<defs><linearGradient id="bk" x1="0.7" y1="0" x2="0.3" y2="1"><stop offset="0" stop-color="#f8dc48"/><stop offset="0.55" stop-color="#e0a818"/><stop offset="1" stop-color="#e8bc38"/></linearGradient><linearGradient id="sg" x1="0" y1="0" x2="1" y2="0"><stop offset="0" stop-color="#3a72e0"/><stop offset="0.5" stop-color="#5a8ed8"/><stop offset="1" stop-color="#4aa84a"/></linearGradient><linearGradient id="cl" x1="0" y1="0" x2="0" y2="1"><stop offset="0" stop-color="#ffffff"/><stop offset="1" stop-color="#bccadf"/></linearGradient></defs>
<g shape-rendering="geometricPrecision">
<rect x="0" y="6" width="4" height="3" fill="#1fb81f" stroke="#0a7a0a" stroke-width="0.6"/>
<text x="7" y="7" font-size="12" fill="#000" stroke="#000" stroke-width="0.25">新订单</text>
<polygon points="62.7,11.9 71,6.0 70.2,4.2 62,10" fill="#d8c48c" stroke="#96660f" stroke-width="0.9"/>
<polygon points="59,-1 65.5,-1 69.6,3 70.3,4.4 62.1,10.2 55,6.1" fill="url(#bk)" stroke="#a06c10" stroke-width="1"/>
<line x1="56.8" y1="5.4" x2="62.4" y2="8.9" stroke="#f7e58a" stroke-width="1.1"/>
<rect x="85.4" y="-2" width="10.6" height="8" fill="#0e98f2"/>
<rect x="87.6" y="-2" width="0.9" height="7" fill="#0a78d0"/>
<rect x="90" y="1" width="4.2" height="1" fill="#d8eefc"/>
<path d="M85.2,11.6 Q83,11.4 83.2,9.2 Q83.4,7.2 85.6,7 Q86.2,5.4 88.2,5.8 Q89.2,4.2 91.2,4.3 Q93.4,4.4 94.2,6.2 Q96,5.2 97.4,6.4 Q98.6,7.4 98.2,8.8 Q99.4,10 98.2,11 Q97.6,11.6 96.6,11.6 Z" fill="url(#cl)" stroke="#4e6a9e" stroke-width="0.9"/>
<g fill="none" stroke="url(#sg)" stroke-width="1.2"><circle cx="119" cy="3.2" r="3.3"/><circle cx="119" cy="3.2" r="5.6" opacity=".85"/><circle cx="119" cy="3.2" r="7.9" opacity=".6"/></g>
<circle cx="118.8" cy="3" r="1.7" fill="#2458d0"/>
<rect x="118.8" y="4" width="1.5" height="7.8" fill="#2aa52a"/>
<ellipse cx="146" cy="0.5" rx="7.5" ry="3" fill="#58b4ea" stroke="#2a7fc4" stroke-width="1"/>
<polygon points="138.5,2.5 153.5,2.5 149,8 146,11 143,8" fill="#f5d646" stroke="#c79a1a" stroke-width="0.8"/>
<circle cx="150.5" cy="7.5" r="3.9" fill="#d92a10"/><rect x="149" y="6" width="3" height="3" fill="#fff"/>
<text x="159.3" y="7" font-size="12" fill="#000" stroke="#000" stroke-width="0.25" textLength="48.2" lengthAdjust="spacing">自动交易</text>
</g>
<rect x="214" y="0" width="1" height="16" fill="#a0a0a0" shape-rendering="crispEdges"/>
<rect x="218" y="0" width="3" height="1" fill="#a8a8a8" shape-rendering="crispEdges"/>
<rect x="218" y="2" width="3" height="1" fill="#a8a8a8" shape-rendering="crispEdges"/>
<rect x="218" y="4" width="3" height="1" fill="#a8a8a8" shape-rendering="crispEdges"/>
<rect x="218" y="6" width="3" height="1" fill="#a8a8a8" shape-rendering="crispEdges"/>
<rect x="218" y="8" width="3" height="1" fill="#a8a8a8" shape-rendering="crispEdges"/>
<rect x="218" y="10" width="3" height="1" fill="#a8a8a8" shape-rendering="crispEdges"/>
<rect x="218" y="12" width="3" height="1" fill="#a8a8a8" shape-rendering="crispEdges"/>
<g shape-rendering="geometricPrecision">
<g shape-rendering="crispEdges" fill="#4a4a4a"><rect x="232" y="0" width="1" height="12"/><rect x="230" y="9" width="13" height="1"/></g><polygon points="241,7.5 244,9.5 241,11.5" fill="#4a4a4a"/>
<path d="M236.5,7 h2.5 v-6.5 h2.5" fill="none" stroke="#1a9a1a" stroke-width="1.6"/>
<rect x="252" y="0" width="25" height="14" fill="#f8f8f8" shape-rendering="crispEdges"/>
<rect x="252" y="0" width="1" height="14" fill="#a0a0a0" shape-rendering="crispEdges"/>
<g shape-rendering="crispEdges" fill="#4a4a4a"><rect x="260" y="0" width="1" height="12"/><rect x="258" y="9" width="13" height="1"/></g><polygon points="269,7.5 272,9.5 269,11.5" fill="#4a4a4a"/>
<rect x="264.5" y="-1" width="4" height="6.5" fill="#22c322" stroke="#0f8a0f" stroke-width="1"/><rect x="266" y="5.5" width="1" height="2.5" fill="#0f8a0f"/>
<g shape-rendering="crispEdges" fill="#4a4a4a"><rect x="288" y="0" width="1" height="12"/><rect x="286" y="9" width="13" height="1"/></g><polygon points="297,7.5 300,9.5 297,11.5" fill="#4a4a4a"/>
<path d="M287.5,7 Q291,1 294,1.5 T298.5,5.5" fill="none" stroke="#1a9a1a" stroke-width="1.3"/>
</g>
<rect x="309" y="0" width="1" height="14" fill="#a0a0a0" shape-rendering="crispEdges"/>
<g shape-rendering="geometricPrecision">
<line x1="328" y1="6" x2="333" y2="10.5" stroke="#cf9c1a" stroke-width="3.3" stroke-linecap="round"/>
<line x1="328.4" y1="5.6" x2="333" y2="9.8" stroke="#f3dc7a" stroke-width="0.9"/>
<circle cx="323.8" cy="1.1" r="5.9" fill="#d4ecfc" stroke="#2878cc" stroke-width="1.3"/>
<rect x="320.6" y="1.2" width="6.6" height="1.9" fill="#2f7fc0"/>
<rect x="322.9" y="-2" width="1.9" height="7.4" fill="#2f7fc0"/>
<line x1="356" y1="6" x2="361" y2="10.5" stroke="#cf9c1a" stroke-width="3.3" stroke-linecap="round"/>
<line x1="356.4" y1="5.6" x2="361" y2="9.8" stroke="#f3dc7a" stroke-width="0.9"/>
<circle cx="351.8" cy="1.1" r="5.9" fill="#d4ecfc" stroke="#2878cc" stroke-width="1.3"/>
<rect x="348.6" y="1.2" width="6.6" height="1.9" fill="#2f7fc0"/>
<rect x="374" y="-4" width="8" height="7.5" fill="#3ca01e"/><rect x="382" y="-4" width="8" height="7.5" fill="#2a5fd8"/><rect x="374" y="4" width="8" height="7.5" fill="#2a5fd8"/><rect x="382" y="4" width="8" height="7.5" fill="#3ca01e"/><rect x="375.3" y="0" width="5.4" height="2.6" fill="#eaf5e4"/><rect x="383.3" y="0" width="5.4" height="2.6" fill="#e4ecfb"/><rect x="375.3" y="7" width="5.4" height="3.6" fill="#e4ecfb"/><rect x="383.3" y="7" width="5.4" height="3.6" fill="#eaf5e4"/><rect x="376.3" y="8" width="3.4" height="1" fill="#7f9fe6"/><rect x="384.3" y="8" width="3.4" height="1" fill="#8cc878"/>
</g>
<rect x="399" y="0" width="1" height="14" fill="#a0a0a0" shape-rendering="crispEdges"/>
<g shape-rendering="geometricPrecision">
<rect x="404" y="0" width="25" height="14" fill="#f8f8f8" shape-rendering="crispEdges"/>
<rect x="404" y="0" width="1" height="14" fill="#a0a0a0" shape-rendering="crispEdges"/>
<g shape-rendering="crispEdges" fill="#4a4a4a"><rect x="412" y="0" width="1" height="12"/><rect x="410" y="9" width="13" height="1"/></g><polygon points="421,7.5 424,9.5 421,11.5" fill="#4a4a4a"/>
<polygon points="417.2,0.2 421.2,3.5 417.2,6.8" fill="#8fe08f" stroke="#16a016" stroke-width="1"/>
<rect x="432" y="0" width="25" height="14" fill="#f8f8f8" shape-rendering="crispEdges"/>
<rect x="432" y="0" width="1" height="14" fill="#a0a0a0" shape-rendering="crispEdges"/>
<g shape-rendering="crispEdges" fill="#4a4a4a"><rect x="440" y="0" width="1" height="12"/><rect x="438" y="9" width="13" height="1"/></g><polygon points="449,7.5 452,9.5 449,11.5" fill="#4a4a4a"/>
<rect x="446" y="0" width="1" height="8" fill="#1f6fb0" shape-rendering="crispEdges"/>
<path d="M452,3.5 h-4 m2,-2 l-2.4,2 l2.4,2" fill="none" stroke="#d84a10" stroke-width="1.3"/>
</g>
<rect x="461" y="0" width="1" height="14" fill="#a0a0a0" shape-rendering="crispEdges"/>
<g shape-rendering="geometricPrecision">
<rect x="471.5" y="-2" width="11" height="11" fill="#fff" stroke="#8a8a8a" stroke-width="1"/>
<path d="M479.4,2.4 h3.4 v3.8 h4.2 v3.4 h-4.2 v3.9 h-3.4 v-3.9 h-4.2 v-3.4 h4.2 z" fill="#30d830" stroke="#0d8f0d" stroke-width="0.9"/>
<polygon points="492.8,3 498.4,3 495.6,6" fill="#000"/>
<circle cx="517" cy="3.6" r="7" fill="#e2e8f2" stroke="#1559cc" stroke-width="2.6"/>
<path d="M516.5,-1 v4.5 h3" fill="none" stroke="#303030" stroke-width="1.1"/>
<polygon points="531.8,3 537.4,3 534.6,6" fill="#000"/>
<rect x="548.8" y="-2" width="15" height="12.5" fill="#fff" stroke="#3a7bd5" stroke-width="1.2"/><rect x="549" y="4.5" width="14.5" height="1" fill="#3a7bd5"/>
<path d="M550.5,3 l2.5,-1 l2,-1 l2.5,1 l2,-1 l2.5,-0.5" fill="none" stroke="#b8321a" stroke-width="1.2"/>
<path d="M551,8.5 l2.5,-1 l2,0.8 l3,-2 l2.5,2" fill="none" stroke="#1a9a1a" stroke-width="1.2"/>
<polygon points="570.8,3 576.4,3 573.6,6" fill="#000"/>
</g>
<rect x="582" y="0" width="1" height="16" fill="#a0a0a0" shape-rendering="crispEdges"/>
<rect x="586" y="0" width="3" height="1" fill="#a8a8a8" shape-rendering="crispEdges"/>
<rect x="586" y="2" width="3" height="1" fill="#a8a8a8" shape-rendering="crispEdges"/>
<rect x="586" y="4" width="3" height="1" fill="#a8a8a8" shape-rendering="crispEdges"/>
<rect x="586" y="6" width="3" height="1" fill="#a8a8a8" shape-rendering="crispEdges"/>
<rect x="586" y="8" width="3" height="1" fill="#a8a8a8" shape-rendering="crispEdges"/>
<rect x="586" y="10" width="3" height="1" fill="#a8a8a8" shape-rendering="crispEdges"/>
<rect x="586" y="12" width="3" height="1" fill="#a8a8a8" shape-rendering="crispEdges"/>
<g shape-rendering="geometricPrecision">
<rect x="592" y="0" width="25" height="14" fill="#f8f8f8" shape-rendering="crispEdges"/>
<rect x="592" y="0" width="1" height="14" fill="#a0a0a0" shape-rendering="crispEdges"/>
<polygon points="600.4,-4 600.4,7.6 603,5.4 605.4,10.8 607.4,9.9 605,4.8 608.6,4.6" fill="#484848"/>
<g shape-rendering="crispEdges" fill="#4a4a4a"><rect x="625" y="4" width="7" height="1"/><rect x="634" y="4" width="6" height="1"/><rect x="632" y="0" width="1" height="3"/><rect x="632" y="6" width="1" height="6"/></g>
</g>
<rect x="649" y="0" width="1" height="14" fill="#a0a0a0" shape-rendering="crispEdges"/>
<g shape-rendering="geometricPrecision">
<g shape-rendering="crispEdges" fill="#4a4a4a"><rect x="666" y="0" width="1" height="11"/><rect x="689" y="4" width="12" height="1"/></g>
<line x1="717" y1="11" x2="729" y2="-1" stroke="#4a4a4a" stroke-width="1.1"/>
<g stroke="#4a4a4a" stroke-width="1" fill="none"><line x1="743.5" y1="6" x2="752" y2="-1"/><line x1="745" y1="10.5" x2="757" y2="0.5"/><line x1="746" y1="3" x2="745.5" y2="9"/><line x1="748.5" y1="1" x2="748" y2="7.5"/><line x1="751" y1="-1" x2="750.5" y2="5.5"/><line x1="753.5" y1="-1" x2="753" y2="3.5"/></g>
<text x="753.6" y="13" font-size="7" font-weight="bold" fill="#303030">E</text>
<g stroke="#4a4a4a" stroke-width="1" stroke-dasharray="1 1" shape-rendering="crispEdges"><line x1="772" y1="0.5" x2="785" y2="0.5"/><line x1="772" y1="4.5" x2="785" y2="4.5"/><line x1="772" y1="8.5" x2="781" y2="8.5"/></g>
<text x="782" y="13" font-size="7" font-weight="bold" fill="#303030">F</text>
<text x="802.5" y="9" font-size="13" fill="#4a4a4a" stroke="#4a4a4a" stroke-width="0.5">A</text>
<rect x="829.5" y="-2" width="12" height="12.5" fill="none" stroke="#4a4a4a" stroke-width="1" stroke-dasharray="1 1" shape-rendering="crispEdges"/>
<text x="831.6" y="9" font-size="11" fill="#4a4a4a" stroke="#4a4a4a" stroke-width="0.25">T</text>
<polygon points="856,-0.5 859.2,-3.5 862.4,-0.5 859.2,2.7" fill="#4a4a4a"/><path d="M858.5,4.5 l2.2,2.3 l4,-5.2" fill="none" stroke="#4a4a4a" stroke-width="1.3"/><polygon points="863,8 866.5,5.5 870,8 866.5,11" fill="#4a4a4a"/>
<polygon points="876.8,3 882.4,3 879.6,6" fill="#000"/>
</g>
<rect x="888" y="0" width="1" height="16" fill="#a0a0a0" shape-rendering="crispEdges"/>
<rect x="892" y="0" width="3" height="1" fill="#a8a8a8" shape-rendering="crispEdges"/>
<rect x="892" y="2" width="3" height="1" fill="#a8a8a8" shape-rendering="crispEdges"/>
<rect x="892" y="4" width="3" height="1" fill="#a8a8a8" shape-rendering="crispEdges"/>
<rect x="892" y="6" width="3" height="1" fill="#a8a8a8" shape-rendering="crispEdges"/>
<rect x="892" y="8" width="3" height="1" fill="#a8a8a8" shape-rendering="crispEdges"/>
<rect x="892" y="10" width="3" height="1" fill="#a8a8a8" shape-rendering="crispEdges"/>
<rect x="892" y="12" width="3" height="1" fill="#a8a8a8" shape-rendering="crispEdges"/>
<rect x="1038" y="0" width="26" height="14" fill="#f8f8f8" shape-rendering="crispEdges"/>
<rect x="1038" y="0" width="1" height="14" fill="#a0a0a0" shape-rendering="crispEdges"/>
<text x="903.5" y="8" font-size="10" fill="#3c3c3c" stroke="#3c3c3c" stroke-width="0.2" textLength="12.5" lengthAdjust="spacingAndGlyphs">M1</text>
<text x="931.5" y="8" font-size="10" fill="#3c3c3c" stroke="#3c3c3c" stroke-width="0.2" textLength="13" lengthAdjust="spacingAndGlyphs">M5</text>
<text x="957.5" y="8" font-size="10" fill="#3c3c3c" stroke="#3c3c3c" stroke-width="0.2" textLength="17.5" lengthAdjust="spacingAndGlyphs">M15</text>
<text x="985.5" y="8" font-size="10" fill="#3c3c3c" stroke="#3c3c3c" stroke-width="0.2" textLength="18" lengthAdjust="spacingAndGlyphs">M30</text>
<text x="1016.5" y="8" font-size="10" fill="#3c3c3c" stroke="#3c3c3c" stroke-width="0.2" textLength="12" lengthAdjust="spacingAndGlyphs">H1</text>
<text x="1043.5" y="8" font-size="10" fill="#3c3c3c" stroke="#3c3c3c" stroke-width="0.2" textLength="12.5" lengthAdjust="spacingAndGlyphs">H4</text>
<text x="1072.5" y="8" font-size="10" fill="#3c3c3c" stroke="#3c3c3c" stroke-width="0.2" textLength="12" lengthAdjust="spacingAndGlyphs">D1</text>
<text x="1100" y="8" font-size="10" fill="#3c3c3c" stroke="#3c3c3c" stroke-width="0.2" textLength="14" lengthAdjust="spacingAndGlyphs">W1</text>
<text x="1127" y="8" font-size="10" fill="#3c3c3c" stroke="#3c3c3c" stroke-width="0.2" textLength="14.5" lengthAdjust="spacingAndGlyphs">MN</text>
<rect x="1149" y="0" width="1" height="14" fill="#a0a0a0" shape-rendering="crispEdges"/>
<g shape-rendering="geometricPrecision">
<line x1="1612.5" y1="9" x2="1617.5" y2="4.5" stroke="#2b5fd9" stroke-width="2"/><circle cx="1620.5" cy="1" r="3.8" fill="#f0f0f0" stroke="#2b5fd9" stroke-width="1.5"/>
<path d="M1637,3 h10 v6 h-6 l-3,3 v-3 h-1 z" fill="#dcdcdc" stroke="#b0b0b0" stroke-width="0.8"/>
<circle cx="1650.3" cy="2.3" r="7.5" fill="#dc2a14"/>
<text x="1646.8" y="6.2" font-size="11" font-weight="bold" fill="#fff" font-family="Liberation Serif, serif">1</text>
</g>
</g>
</svg>
</body></html>
